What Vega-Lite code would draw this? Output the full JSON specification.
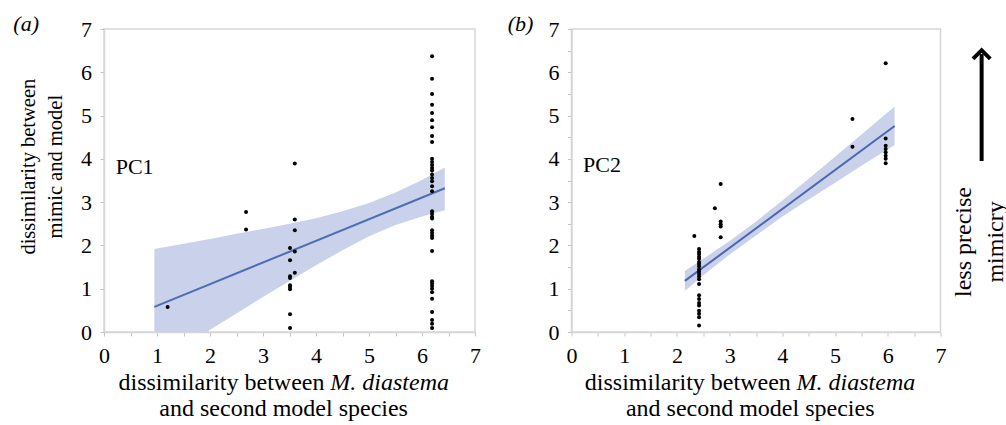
{
  "$schema": "https://vega.github.io/schema/vega-lite/v6.json",
  "background": "white",
  "padding": {"left": 12, "top": 12, "right": 0, "bottom": 0},
  "bounds": "flush",
  "spacing": 96.5,
  "datasets": {
    "pa": [
      {"x": 1.20, "y": 0.58},
      {"x": 2.68, "y": 2.77}, {"x": 2.68, "y": 2.37},
      {"x": 3.51, "y": 1.94}, {"x": 3.51, "y": 1.66}, {"x": 3.51, "y": 1.29}, {"x": 3.51, "y": 1.25}, {"x": 3.51, "y": 1.08}, {"x": 3.51, "y": 1.04}, {"x": 3.51, "y": 0.99}, {"x": 3.51, "y": 0.41}, {"x": 3.51, "y": 0.09},
      {"x": 3.60, "y": 3.89}, {"x": 3.60, "y": 2.60}, {"x": 3.60, "y": 2.35}, {"x": 3.60, "y": 1.86}, {"x": 3.60, "y": 1.37},
      {"x": 6.19, "y": 6.37}, {"x": 6.19, "y": 5.85}, {"x": 6.19, "y": 5.50}, {"x": 6.19, "y": 5.25}, {"x": 6.19, "y": 5.06}, {"x": 6.19, "y": 4.89}, {"x": 6.19, "y": 4.73}, {"x": 6.19, "y": 4.53}, {"x": 6.19, "y": 4.39}, {"x": 6.19, "y": 4.00}, {"x": 6.19, "y": 3.93}, {"x": 6.19, "y": 3.86}, {"x": 6.19, "y": 3.79}, {"x": 6.19, "y": 3.73}, {"x": 6.19, "y": 3.64}, {"x": 6.19, "y": 3.56}, {"x": 6.19, "y": 3.48}, {"x": 6.19, "y": 3.37}, {"x": 6.19, "y": 3.25}, {"x": 6.19, "y": 2.79}, {"x": 6.19, "y": 2.73}, {"x": 6.19, "y": 2.66}, {"x": 6.19, "y": 2.62}, {"x": 6.19, "y": 2.35}, {"x": 6.19, "y": 2.29}, {"x": 6.19, "y": 2.23}, {"x": 6.19, "y": 2.17}, {"x": 6.19, "y": 1.87}, {"x": 6.19, "y": 1.17}, {"x": 6.19, "y": 1.12}, {"x": 6.19, "y": 1.06}, {"x": 6.19, "y": 1.00}, {"x": 6.19, "y": 0.92}, {"x": 6.19, "y": 0.77}, {"x": 6.19, "y": 0.46}, {"x": 6.19, "y": 0.28}, {"x": 6.19, "y": 0.19}, {"x": 6.19, "y": 0.09}
    ],
    "pb": [
      {"x": 2.33, "y": 2.22},
      {"x": 2.42, "y": 1.92}, {"x": 2.42, "y": 1.85}, {"x": 2.42, "y": 1.80}, {"x": 2.42, "y": 1.74}, {"x": 2.42, "y": 1.69}, {"x": 2.42, "y": 1.62}, {"x": 2.42, "y": 1.57}, {"x": 2.42, "y": 1.52}, {"x": 2.42, "y": 1.45}, {"x": 2.42, "y": 1.39}, {"x": 2.42, "y": 1.34}, {"x": 2.42, "y": 1.28}, {"x": 2.42, "y": 1.22}, {"x": 2.42, "y": 1.11}, {"x": 2.42, "y": 0.85}, {"x": 2.42, "y": 0.76}, {"x": 2.42, "y": 0.67}, {"x": 2.42, "y": 0.61}, {"x": 2.42, "y": 0.49}, {"x": 2.42, "y": 0.42}, {"x": 2.42, "y": 0.34}, {"x": 2.42, "y": 0.15},
      {"x": 2.72, "y": 2.86},
      {"x": 2.83, "y": 3.42}, {"x": 2.83, "y": 2.55}, {"x": 2.83, "y": 2.49}, {"x": 2.83, "y": 2.44}, {"x": 2.83, "y": 2.19},
      {"x": 5.33, "y": 4.92}, {"x": 5.33, "y": 4.28},
      {"x": 5.96, "y": 6.21}, {"x": 5.96, "y": 4.47}, {"x": 5.96, "y": 4.30}, {"x": 5.96, "y": 4.23}, {"x": 5.96, "y": 4.15}, {"x": 5.96, "y": 4.07}, {"x": 5.96, "y": 4.00}, {"x": 5.96, "y": 3.90}
    ],
    "la": [{"x": 0.95, "y": 0.58}, {"x": 6.43, "y": 3.32}],
    "lb": [{"x": 2.15, "y": 1.18}, {"x": 6.13, "y": 4.76}],
    "ba": [
      {"x": 0.95, "y": -0.78, "y2": 1.92},
      {"x": 1.5, "y": -0.35, "y2": 2.04},
      {"x": 2.0, "y": 0.05, "y2": 2.15},
      {"x": 2.5, "y": 0.43, "y2": 2.27},
      {"x": 3.0, "y": 0.81, "y2": 2.38},
      {"x": 3.5, "y": 1.18, "y2": 2.50},
      {"x": 4.0, "y": 1.54, "y2": 2.63},
      {"x": 4.5, "y": 1.89, "y2": 2.79},
      {"x": 5.0, "y": 2.21, "y2": 2.98},
      {"x": 5.5, "y": 2.47, "y2": 3.22},
      {"x": 6.0, "y": 2.67, "y2": 3.51},
      {"x": 6.43, "y": 2.81, "y2": 3.80}
    ],
    "bb": [
      {"x": 2.15, "y": 0.95, "y2": 1.41},
      {"x": 2.5, "y": 1.31, "y2": 1.69},
      {"x": 3.0, "y": 1.79, "y2": 2.10},
      {"x": 3.5, "y": 2.23, "y2": 2.55},
      {"x": 4.0, "y": 2.67, "y2": 3.04},
      {"x": 4.5, "y": 3.06, "y2": 3.54},
      {"x": 5.0, "y": 3.45, "y2": 4.05},
      {"x": 5.5, "y": 3.84, "y2": 4.56},
      {"x": 6.13, "y": 4.32, "y2": 5.21}
    ],
    "txa": [{"x": 0.22, "y": 3.81, "t": "PC1"}],
    "txb": [{"x": 0.22, "y": 3.86, "t": "PC2"}],
    "pla": [{"x": -1.71, "y": 7.12, "t": "(a)"}],
    "plb": [{"x": -1.21, "y": 7.12, "t": "(b)"}],
    "yt": [{"x": -1.42, "y": 3.82, "t": "dissimilarity between"}, {"x": -0.90, "y": 3.82, "t": "mimic and model"}],
    "xt1n": [{"x": 4.16, "y": -1.18, "t": "dissimilarity between"}],
    "xt1i": [{"x": 4.27, "y": -1.18, "t": "M. diastema"}],
    "xt2": [{"x": 3.39, "y": -1.78, "t": "and second model species"}],
    "ann": [{"x": 7.45, "y": 2.08, "t": "less precise"}, {"x": 8.05, "y": 2.08, "t": "mimicry"}],
    "arr": [{"x": 7.78, "y": 3.95, "y2": 6.42}],
    "head": [{"x": 7.78, "y": 6.42}]
  },
  "hconcat": [
    {
      "width": 371,
      "height": 303,
      "encoding": {
        "x": {"field": "x", "type": "quantitative", "title": null,
              "scale": {"domain": [0, 7], "nice": false, "zero": false},
              "axis": {"values": [0, 0.5, 1, 1.5, 2, 2.5, 3, 3.5, 4, 4.5, 5, 5.5, 6, 6.5, 7], "format": ".0f", "labelExpr": "datum.value % 1 === 0 ? datum.label : ''", "labelOverlap": false, "labelFlush": false, "labelPadding": 9.5}},
        "y": {"field": "y", "type": "quantitative", "title": null,
              "scale": {"domain": [0, 7], "nice": false, "zero": false},
              "axis": {"values": [0, 1, 2, 3, 4, 5, 6, 7], "format": ".0f", "labelFlush": false, "labelOverlap": false, "labelPadding": 8.5}}
      },
      "layer": [
        {"data": {"name": "ba"}, "mark": {"type": "area", "color": "#c9d2ea", "opacity": 1, "clip": true}, "encoding": {"y2": {"field": "y2"}}},
        {"data": {"name": "la"}, "mark": {"type": "line", "color": "#4f6db4", "strokeWidth": 2}, "encoding": {}},
        {"data": {"name": "pa"}, "mark": {"type": "point", "filled": true, "color": "#000000", "size": 16, "opacity": 1}, "encoding": {}},
        {"data": {"name": "txa"}, "mark": {"type": "text", "align": "left", "baseline": "middle", "font": "Liberation Serif", "fontSize": 22, "color": "#000000"}, "encoding": {"text": {"field": "t"}}},
        {"data": {"name": "pla"}, "mark": {"type": "text", "align": "left", "baseline": "middle", "font": "Liberation Serif", "fontStyle": "italic", "fontSize": 22, "color": "#000000"}, "encoding": {"text": {"field": "t"}}},
        {"data": {"name": "yt"}, "mark": {"type": "text", "align": "center", "baseline": "middle", "angle": 270, "font": "Liberation Serif", "fontSize": 20.5, "color": "#000000"}, "encoding": {"text": {"field": "t"}}},
        {"data": {"name": "xt1n"}, "mark": {"type": "text", "align": "right", "baseline": "middle", "font": "Liberation Serif", "fontSize": 24, "color": "#000000"}, "encoding": {"text": {"field": "t"}}},
        {"data": {"name": "xt1i"}, "mark": {"type": "text", "align": "left", "baseline": "middle", "font": "Liberation Serif", "fontStyle": "italic", "fontSize": 24, "color": "#000000"}, "encoding": {"text": {"field": "t"}}},
        {"data": {"name": "xt2"}, "mark": {"type": "text", "align": "center", "baseline": "middle", "font": "Liberation Serif", "fontSize": 24, "color": "#000000"}, "encoding": {"text": {"field": "t"}}}
      ]
    },
    {
      "width": 369,
      "height": 303,
      "encoding": {
        "x": {"field": "x", "type": "quantitative", "title": null,
              "scale": {"domain": [0, 7], "nice": false, "zero": false},
              "axis": {"values": [0, 0.5, 1, 1.5, 2, 2.5, 3, 3.5, 4, 4.5, 5, 5.5, 6, 6.5, 7], "format": ".0f", "labelExpr": "datum.value % 1 === 0 ? datum.label : ''", "labelOverlap": false, "labelFlush": false, "labelPadding": 9.5}},
        "y": {"field": "y", "type": "quantitative", "title": null,
              "scale": {"domain": [0, 7], "nice": false, "zero": false},
              "axis": {"values": [0, 0.5, 1, 1.5, 2, 2.5, 3, 3.5, 4, 4.5, 5, 5.5, 6, 6.5, 7], "format": ".0f", "labelExpr": "datum.value % 1 === 0 ? datum.label : ''", "labelFlush": false, "labelOverlap": false, "labelPadding": 8.5}}
      },
      "layer": [
        {"data": {"name": "bb"}, "mark": {"type": "area", "color": "#c9d2ea", "opacity": 1, "clip": true}, "encoding": {"y2": {"field": "y2"}}},
        {"data": {"name": "lb"}, "mark": {"type": "line", "color": "#4a67b0", "strokeWidth": 2}, "encoding": {}},
        {"data": {"name": "pb"}, "mark": {"type": "point", "filled": true, "color": "#000000", "size": 16, "opacity": 1}, "encoding": {}},
        {"data": {"name": "txb"}, "mark": {"type": "text", "align": "left", "baseline": "middle", "font": "Liberation Serif", "fontSize": 22, "color": "#000000"}, "encoding": {"text": {"field": "t"}}},
        {"data": {"name": "plb"}, "mark": {"type": "text", "align": "left", "baseline": "middle", "font": "Liberation Serif", "fontStyle": "italic", "fontSize": 22, "color": "#000000"}, "encoding": {"text": {"field": "t"}}},
        {"data": {"name": "xt1n"}, "mark": {"type": "text", "align": "right", "baseline": "middle", "font": "Liberation Serif", "fontSize": 24, "color": "#000000"}, "encoding": {"text": {"field": "t"}}},
        {"data": {"name": "xt1i"}, "mark": {"type": "text", "align": "left", "baseline": "middle", "font": "Liberation Serif", "fontStyle": "italic", "fontSize": 24, "color": "#000000"}, "encoding": {"text": {"field": "t"}}},
        {"data": {"name": "xt2"}, "mark": {"type": "text", "align": "center", "baseline": "middle", "font": "Liberation Serif", "fontSize": 24, "color": "#000000"}, "encoding": {"text": {"field": "t"}}},
        {"data": {"name": "ann"}, "mark": {"type": "text", "align": "center", "baseline": "middle", "angle": 270, "font": "Liberation Serif", "fontSize": 24, "color": "#000000"}, "encoding": {"text": {"field": "t"}}},
        {"data": {"name": "arr"}, "mark": {"type": "rule", "color": "#000000", "strokeWidth": 4}, "encoding": {"y2": {"field": "y2"}}},
        {"data": {"name": "head"}, "mark": {"type": "point", "shape": "M-1,0.55L0,-0.45L1,0.55", "filled": false, "color": "#000000", "strokeWidth": 4, "size": 300, "opacity": 1, "strokeJoin": "miter"}, "encoding": {}}
      ]
    }
  ],
  "config": {
    "font": "Liberation Serif",
    "view": {"stroke": "#d6d6d6", "strokeWidth": 1.5},
    "axis": {
      "grid": false,
      "labelFont": "Liberation Serif",
      "labelFontSize": 22,
      "labelColor": "#000000",
      "domainColor": "#d6d6d6",
      "domainWidth": 1.5,
      "tickColor": "#c4c4c4",
      "tickSize": 4,
      "titleFont": "Liberation Serif",
      "titleFontWeight": "normal",
      "titleColor": "#000000"
    }
  }
}
